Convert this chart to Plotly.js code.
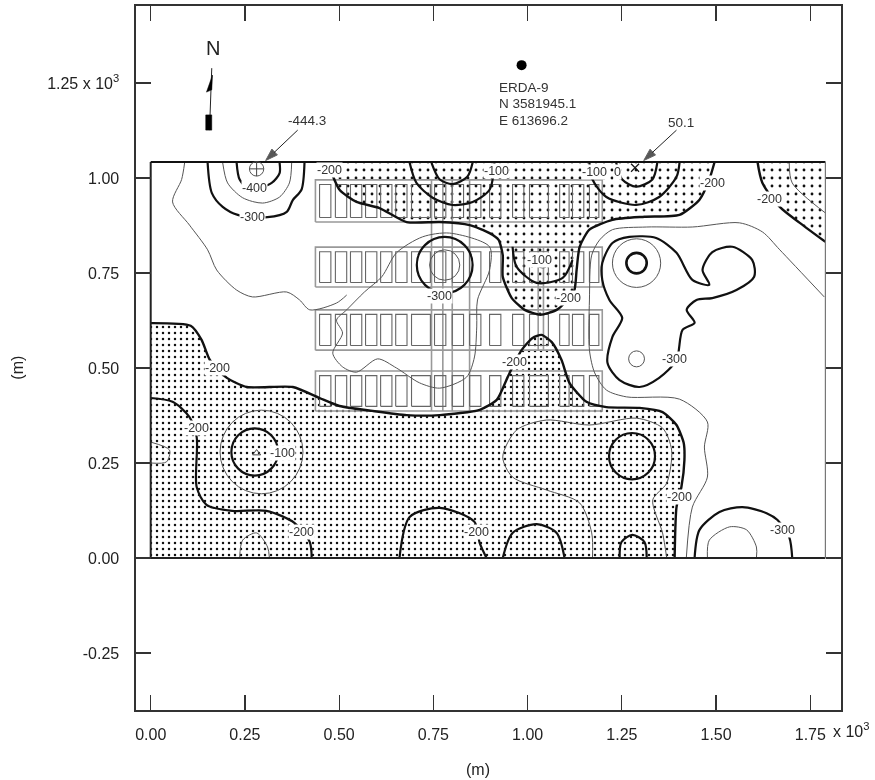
<!DOCTYPE html>
<html><head><meta charset="utf-8">
<script src="https://cdn.plot.ly/plotly-3.0.1.min.js"></script>
<style>html,body{margin:0;padding:0;background:#fff}#g{width:875px;height:780px;filter:blur(0.4px)}</style>
</head><body><div id="g"></div>
<script>
// All coordinates are in units of 10^3 m, as on the chart's axes.
const xTicks=[0,0.25,0.5,0.75,1,1.25,1.5,1.75];
const xTickLabels=['0.00','0.25','0.50','0.75','1.00','1.25','1.50','1.75'];
const yTicks=[-0.25,0,0.25,0.5,0.75,1,1.25];
const yTickLabels=['-0.25','0.00','0.25','0.50','0.75','1.00','1.25 x 10<sup>3</sup>'];

// stippled zones (above -200)
const zoneAx=[0,0.106,0.135,0.157,0.202,0.255,0.377,0.448,0.501,0.589,0.679,0.767,0.873,0.918,0.947,0.960,0.984,1.013,1.037,1.064,1.090,1.111,1.156,1.209,1.297,1.358,1.395,1.414,1.416,1.408,1.395,1.390];
const zoneAy=[0.618,0.611,0.574,0.521,0.474,0.450,0.450,0.421,0.400,0.387,0.376,0.376,0.390,0.416,0.476,0.503,0.547,0.579,0.587,0.568,0.521,0.461,0.411,0.397,0.395,0.384,0.350,0.303,0.258,0.187,0.134,0];
const zoneBx=[0.469,0.501,0.546,0.607,0.679,0.767,0.846,0.899,0.923,0.934,0.934,0.958,0.992,1.034,1.077,1.098,1.124,1.130,1.138,1.164,1.225,1.310,1.403,1.456,1.482,1.496];
const zoneBy=[1.042,0.969,0.937,0.921,0.884,0.884,0.876,0.855,0.837,0.797,0.740,0.684,0.653,0.640,0.653,0.671,0.705,0.758,0.819,0.864,0.890,0.898,0.903,0.943,0.996,1.042];
const zoneCx=[1.610,1.623,1.669,1.722,1.79];
const zoneCy=[1.042,0.987,0.924,0.882,0.832];

// heavy contours
const heavy=[
 {x:[0.745,0.767,0.801,0.840,0.854],y:[1.04,0.996,0.984,1.003,1.04]},
 {x:[0.687,0.705,0.748,0.801,0.854,0.899,0.912],y:[1.04,0.987,0.948,0.929,0.937,0.969,1.04]},
 {x:[1.235,1.251,1.288,1.331,1.344],y:[1.04,0.996,0.977,0.996,1.04]},
 {x:[1.164,1.172,1.209,1.288,1.349,1.395,1.403],y:[1.04,0.996,0.950,0.929,0.950,1.003,1.04]},
 {x:[1.448,1.422,1.443,1.411,1.395,1.349,1.297,1.244,1.212,1.225,1.251,1.217,1.198,1.198,1.225,1.270,1.341,1.395,1.437,1.482,1.464,1.490,1.543,1.596,1.601,1.554,1.490,1.448],
  y:[0.679,0.653,0.619,0.600,0.521,0.474,0.450,0.468,0.513,0.582,0.632,0.679,0.732,0.776,0.829,0.845,0.842,0.803,0.732,0.719,0.758,0.805,0.819,0.784,0.740,0.705,0.684,0.679]},
 {x:[1.443,1.456,1.509,1.570,1.634,1.663,1.694,1.702],y:[0,0.074,0.121,0.134,0.118,0.100,0.055,0]},
 {x:[0.151,0.162,0.191,0.231,0.310,0.361,0.377,0.400,0.408],y:[1.04,0.961,0.924,0.903,0.897,0.911,0.942,0.969,1.04]},
 {x:[0.228,0.236,0.262,0.321,0.342,0.342],y:[1.04,0.996,0.970,0.987,1.013,1.04]},
 {x:[0,0.058,0.103,0.122,0.122,0.148,0.217,0.307,0.382,0.422,0.427],y:[0.421,0.411,0.371,0.318,0.187,0.140,0.124,0.124,0.092,0.042,0]},
 {x:[0.660,0.687,0.767,0.859,0.873,0.891],y:[0,0.108,0.132,0.095,0.039,0]},
 {x:[0.934,0.960,1.024,1.077,1.098],y:[0,0.066,0.089,0.066,0]},
 {x:[1.244,1.249,1.278,1.310,1.316],y:[0,0.042,0.061,0.042,0]},
 {x:[0.960,0.971,1.024,1.093,1.119],y:[0.819,0.766,0.724,0.737,0.784]}
];
// light contours
const light=[
 {x:[1.694,1.702,1.79],y:[1.04,0.987,0.908]},
 {x:[1.787,1.669,1.623,1.562,1.437,1.316,1.225,1.191,1.170,1.164,1.164,1.178,1.209,1.262,1.403,1.477,1.469,1.477,1.437,1.421],
  y:[0.687,0.811,0.858,0.882,0.871,0.871,0.864,0.837,0.797,0.679,0.547,0.487,0.442,0.424,0.418,0.358,0.292,0.213,0.134,0]},
 {x:[1.477,1.482,1.536,1.581,1.607,1.607],y:[0,0.047,0.082,0.074,0.029,0]},
 {x:[0.191,0.204,0.244,0.297,0.342,0.368,0.374],y:[1.04,0.987,0.948,0.934,0.950,0.987,1.04]},
 {x:[0.090,0.082,0.058,0.103,0.151,0.175,0.228,0.270,0.361,0.395,0.422,0.493,0.520],y:[1.04,0.996,0.937,0.876,0.811,0.758,0.705,0.687,0.700,0.679,0.653,0.671,0.692]},
 {x:[0.899,0.793,0.721,0.652,0.613,0.567,0.520,0.493,0.509,0.483,0.509,0.546,0.602,0.652,0.713,0.767,0.838,0.859,0.865,0.867,0.899,0.899],
  y:[0.819,0.855,0.845,0.803,0.740,0.700,0.653,0.626,0.592,0.539,0.503,0.489,0.524,0.500,0.461,0.447,0.476,0.529,0.608,0.679,0.758,0.819]},
 {x:[0.236,0.244,0.281,0.310,0.315],y:[0,0.047,0.066,0.029,0]},
 {x:[0,0.050,0.042,0],y:[0.305,0.284,0.253,0.250]},
 {x:[1.172,1.170,1.138,1.050,0.960,0.934,0.971,1.050,1.164,1.289,1.358,1.382,1.369,1.332,1.358,1.369],
  y:[0,0.066,0.145,0.179,0.213,0.266,0.337,0.363,0.350,0.368,0.342,0.284,0.197,0.153,0.066,0]}
];
// closed round contours: centre x, centre y, radius, line width
const circleCx=[0.780,0.780,1.289,1.289,1.289,0.276,0.294,1.277,1.040,0.281];
const circleCy=[0.771,0.771,0.776,0.776,0.524,0.279,0.279,0.268,0.779,1.024];
const circleR =[0.074,0.040,0.064,0.027,0.021,0.062,0.110,0.061,0.016,0.019];
const circleW =[2.2,1,1,2.6,1,2.2,1,2.2,1,1];

// repository panels
const rowBottom=[0.884,0.713,0.547,0.387], rowTop=[0.995,0.818,0.653,0.492];
const panelLeft=0.437, panelRight=1.198;
const roomLeft=[0.448,0.490,0.530,0.570,0.610,0.650,0.692,0.753,0.800,0.846,0.899,0.960,1.005,1.085,1.119,1.164];
const roomWide=[0.03,0.03,0.03,0.03,0.03,0.03,0.05,0.03,0.03,0.03,0.03,0.03,0.05,0.025,0.03,0.025];
const driftX=[0.745,0.775,0.800,0.846], driftBottom=0.387, driftTop=0.995;
const shaftX=[1.028,1.042], shaftBottom=0.547, shaftTop=0.818;

const valueLabels=[['-400',0.276,0.974],['-300',0.271,0.897],['-200',0.475,1.021],['-100',0.918,1.018],['-100',1.178,1.016],['0',1.239,1.016],['-200',1.491,0.987],['-200',1.642,0.945],['-100',1.032,0.784],['-200',1.109,0.684],['-300',0.767,0.689],['-300',1.390,0.524],['-200',0.966,0.516],['-200',0.178,0.500],['-200',0.122,0.342],['-100',0.350,0.276],['-200',0.401,0.068],['-200',0.865,0.068],['-200',1.403,0.161],['-300',1.676,0.074]];
const calloutText=['-444.3','50.1'], calloutX=[0.414,1.408], calloutY=[1.150,1.147];
const arrowX=[[0.390,0.305],[1.395,1.308]], arrowY=[[1.126,1.046],[1.126,1.046]];
const wellLines=['ERDA-9','N 3581945.1','E 613696.2'], wellLineY=[1.237,1.195,1.150], wellTextX=0.918;
const wellX=[0.984], wellY=[1.297];
const peakX=[1.285], peakY=[1.027], siteX=[0.281], siteY=[0.276];
const northLineX=[0.162,0.156], northLineY=[1.289,1.126];
const northBarbX=[0.164,0.148,0.162,0.164], northBarbY=[1.271,1.226,1.232,1.271];
const northTailX=[0.146,0.162,0.162,0.146,0.146], northTailY=[1.126,1.126,1.166,1.166,1.126];

const traces=[];
function zone(x,y,size,sol){traces.push({x:x,y:y,mode:'lines',fill:'toself',fillcolor:'rgba(255,255,255,0)',fillpattern:{shape:'.',fgcolor:'#111',bgcolor:'rgba(255,255,255,0)',size:size,solidity:sol},line:{width:0},hoverinfo:'skip',showlegend:false});}
zone(zoneAx.concat([0,0]),zoneAy.concat([0,zoneAy[0]]),6,0.14);
zone(zoneBx.concat([zoneBx[0]]),zoneBy.concat([zoneBy[0]]),8,0.1);
zone(zoneCx.concat([1.79,zoneCx[0]]),zoneCy.concat([1.042,zoneCy[0]]),8,0.1);

// panels
let px=[],py=[],rx=[],ry=[];
rowBottom.forEach(function(b,i){const t=rowTop[i];
 px.push(panelLeft,panelRight,panelRight,panelLeft,panelLeft,null);py.push(b,b,t,t,b,null);
 roomLeft.forEach(function(l,j){const r=l+roomWide[j],bb=b+0.012,tt=t-0.012;
  rx.push(l,r,r,l,l,null);ry.push(bb,bb,tt,tt,bb,null);});
});
driftX.forEach(function(d){px.push(d,d,null);py.push(driftBottom,driftTop,null);});
shaftX.forEach(function(d){px.push(d,d,null);py.push(shaftBottom,shaftTop,null);});
traces.push({x:px,y:py,mode:'lines',line:{color:'#999',width:1.6},hoverinfo:'skip',showlegend:false});
traces.push({x:rx,y:ry,mode:'lines',line:{color:'#666',width:1.1},hoverinfo:'skip',showlegend:false});

light.forEach(function(c){traces.push({x:c.x,y:c.y,mode:'lines',line:{color:'#555',width:1,shape:'spline',smoothing:0.8},hoverinfo:'skip',showlegend:false});});
heavy.forEach(function(c){traces.push({x:c.x,y:c.y,mode:'lines',line:{color:'#111',width:2.2,shape:'spline',smoothing:0.8},hoverinfo:'skip',showlegend:false});});
traces.push({x:zoneAx,y:zoneAy,mode:'lines',line:{color:'#111',width:2.4,shape:'spline',smoothing:0.6},hoverinfo:'skip',showlegend:false});
traces.push({x:zoneBx,y:zoneBy,mode:'lines',line:{color:'#111',width:2.4,shape:'spline',smoothing:0.6},hoverinfo:'skip',showlegend:false});
traces.push({x:zoneCx,y:zoneCy,mode:'lines',line:{color:'#111',width:2.4,shape:'spline',smoothing:0.8},hoverinfo:'skip',showlegend:false});
// map border
traces.push({x:[0,0,1.79],y:[1.042,0,0],mode:'lines',line:{color:'#222',width:2},hoverinfo:'skip',showlegend:false});
traces.push({x:[0,1.79],y:[1.042,1.042],mode:'lines',line:{color:'#111',width:2},hoverinfo:'skip',showlegend:false});
traces.push({x:[1.79,1.79],y:[0,1.042],mode:'lines',line:{color:'#777',width:1.2},hoverinfo:'skip',showlegend:false});
// well, survey points, callout arrows and north arrow
traces.push({x:wellX,y:wellY,mode:'markers',marker:{color:'#000',size:10},hoverinfo:'skip',showlegend:false});
traces.push({x:peakX,y:peakY,mode:'markers',marker:{symbol:'x-thin',size:8,line:{color:'#111',width:1.2}},hoverinfo:'skip',showlegend:false});
traces.push({x:siteX,y:siteY,mode:'markers',marker:{symbol:'triangle-up-open',color:'#444',size:7,line:{width:1}},hoverinfo:'skip',showlegend:false});
arrowX.forEach(function(a,i){traces.push({x:a,y:arrowY[i],mode:'lines+markers',line:{color:'#222',width:1},marker:{symbol:'arrow',angleref:'previous',size:[0,13],color:'#111'},hoverinfo:'skip',showlegend:false});});
traces.push({x:northLineX,y:northLineY,mode:'lines',line:{color:'#222',width:1},hoverinfo:'skip',showlegend:false});
[[northBarbX,northBarbY],[northTailX,northTailY]].forEach(function(p){traces.push({x:p[0],y:p[1],mode:'lines',fill:'toself',fillcolor:'#000',line:{color:'#000',width:0.5},hoverinfo:'skip',showlegend:false});});

const shapes=circleCx.map(function(c,i){return {type:'circle',xref:'x',yref:'y',x0:c-circleR[i],x1:c+circleR[i],y0:circleCy[i]-circleR[i],y1:circleCy[i]+circleR[i],line:{color:circleW[i]>1?'#111':'#555',width:circleW[i]}};});
shapes.push({type:'line',xref:'x',yref:'y',x0:0.262,x1:0.300,y0:1.024,y1:1.024,line:{color:'#444',width:1}});
shapes.push({type:'line',xref:'x',yref:'y',x0:0.281,x1:0.281,y0:1.005,y1:1.042,line:{color:'#444',width:1}});

const family='"Liberation Sans",Arial,sans-serif';
const labelFont={family:family,size:12.5,color:'#333'};
const noteFont={family:family,size:13.5,color:'#333'};
const tickFont={family:family,size:16,color:'#222'};
const ann=valueLabels.map(function(l){return {x:l[1],y:l[2],xref:'x',yref:'y',text:l[0],showarrow:false,font:labelFont,bgcolor:'#fff',borderpad:0};});
calloutText.forEach(function(t,i){ann.push({x:calloutX[i],y:calloutY[i],xref:'x',yref:'y',text:t,showarrow:false,font:noteFont});});
wellLines.forEach(function(t,i){ann.push({x:wellTextX,y:wellLineY[i],xref:'x',yref:'y',xanchor:'left',text:t,showarrow:false,font:noteFont});});
ann.push({x:0.164,y:1.342,xref:'x',yref:'y',text:'N',showarrow:false,font:{family:family,size:20,color:'#222'}});
ann.push({x:0.9865,y:-0.028,xref:'paper',yref:'paper',xanchor:'left',yanchor:'middle',text:'x 10<sup>3</sup>',showarrow:false,font:tickFont});
ann.push({x:0.4848,y:-0.099,xref:'paper',yref:'paper',text:'(m)',showarrow:false,font:tickFont});
ann.push({x:-0.183,y:0.487,xref:'paper',yref:'paper',text:'(m)',textangle:-90,showarrow:false,font:tickFont});

const axisBase={showgrid:false,zeroline:false,showline:true,linecolor:'#333',linewidth:1.6,mirror:'ticks',ticks:'inside',ticklen:15,tickcolor:'#333',tickwidth:1.2,tickfont:tickFont,tickmode:'array'};
const layout={width:875,height:780,margin:{l:136,r:33.5,t:6,b:70},paper_bgcolor:'#fff',plot_bgcolor:'#fff',showlegend:false,
 xaxis:Object.assign({},axisBase,{range:[-0.039,1.8314],tickvals:xTicks,ticktext:xTickLabels,ticklabelstandoff:9}),
 yaxis:Object.assign({},axisBase,{range:[-0.4,1.4526],tickvals:yTicks,ticktext:yTickLabels,ticklabelstandoff:12}),
 shapes:shapes,annotations:ann};
Plotly.newPlot('g',traces,layout,{displayModeBar:false,staticPlot:true});
</script></body></html>
